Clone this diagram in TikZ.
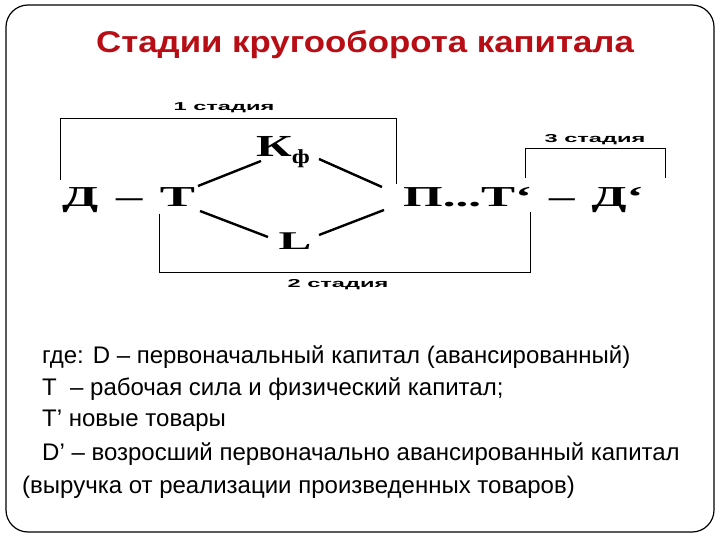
\documentclass[tikz,border=0pt]{standalone}
\usepackage{fontspec}
\setmainfont{Liberation Serif}
\setsansfont{Liberation Sans}
\definecolor{titlered}{HTML}{B80D14}
\begin{document}
\begin{tikzpicture}[x=1pt,y=-1pt,
  stg/.style={font=\sffamily\bfseries\fontsize{11.5}{12}\selectfont, inner sep=0pt},
  big/.style={font=\rmfamily\bfseries\fontsize{34}{36}\selectfont, inner sep=0pt},
  br/.style={line width=0.8pt},
  ln/.style={line width=2.4pt},
  txt/.style={font=\sffamily\fontsize{24}{26}\selectfont, anchor=west, inner sep=0pt}]
\useasboundingbox (0,0) rectangle (720,540);
\draw[line width=1.2pt, rounded corners=22pt] (6,5) rectangle (714,532);
\node[font=\sffamily\bfseries\fontsize{30}{32}\selectfont, text=titlered] (title) at (365,45) {\scalebox{1.16}[1]{Стадии кругооборота капитала}};
% stage labels
\node[stg] (s1) at (224,108) {\scalebox{2.05}[1]{1 стадия}};
\node[stg] (s3) at (595,140) {\scalebox{2.05}[1]{3 стадия}};
\node[stg] (s2) at (338,285) {\scalebox{2.05}[1]{2 стадия}};
% main row
\node[big, anchor=west] (dt) at (62,200) {\scalebox{1.55}[0.85]{Д\,\,–\,\,Т}};
\node[big, anchor=west] (pt) at (403,200) {\scalebox{1.5}[0.85]{П...Т`\,\,–\,\,Д`}};
\node[big] (kf) at (283,152) {\scalebox{1.45}[0.9]{К}\raisebox{-7pt}{\fontsize{20}{22}\selectfont\scalebox{1.3}[1]{ф}}};
\node[big] (L) at (295,241) {\scalebox{1.45}[0.75]{L}};
% coordinates for connectors
\coordinate (a1) at (198,186); \coordinate (a2) at (261,161);
\coordinate (b1) at (319,159); \coordinate (b2) at (382,187);
\coordinate (c1) at (200,211); \coordinate (c2) at (268,237);
\coordinate (d1) at (319,235); \coordinate (d2) at (384,210);
\draw[ln] (a1) -- (a2);
\draw[ln] (b1) -- (b2);
\draw[ln] (c1) -- (c2);
\draw[ln] (d1) -- (d2);
% brackets
\coordinate (p1) at (60,180); \coordinate (p2) at (396,184);
\draw[br] (p1) -- (60,118) -- (396,118) -- (p2);
\coordinate (q1) at (525,178); \coordinate (q2) at (665,178);
\draw[br] (q1) -- (525,148) -- (665,148) -- (q2);
\coordinate (r1) at (159,214); \coordinate (r2) at (530,212);
\draw[br] (r1) -- (159,272) -- (530,272) -- (r2);
% legend
\node[txt] (l1) at (42,357) {где: D – первоначальный капитал (авансированный)};
\node[txt] (l2) at (42,389) {T \ – рабочая сила и физический капитал;};
\node[txt] (l3) at (42,421) {T’ новые товары};
\node[txt] (l4) at (42,454) {D’ – возросший первоначально авансированный капитал};
\node[txt] (l5) at (22,487) {(выручка от реализации произведенных товаров)};
\end{tikzpicture}
\end{document}
